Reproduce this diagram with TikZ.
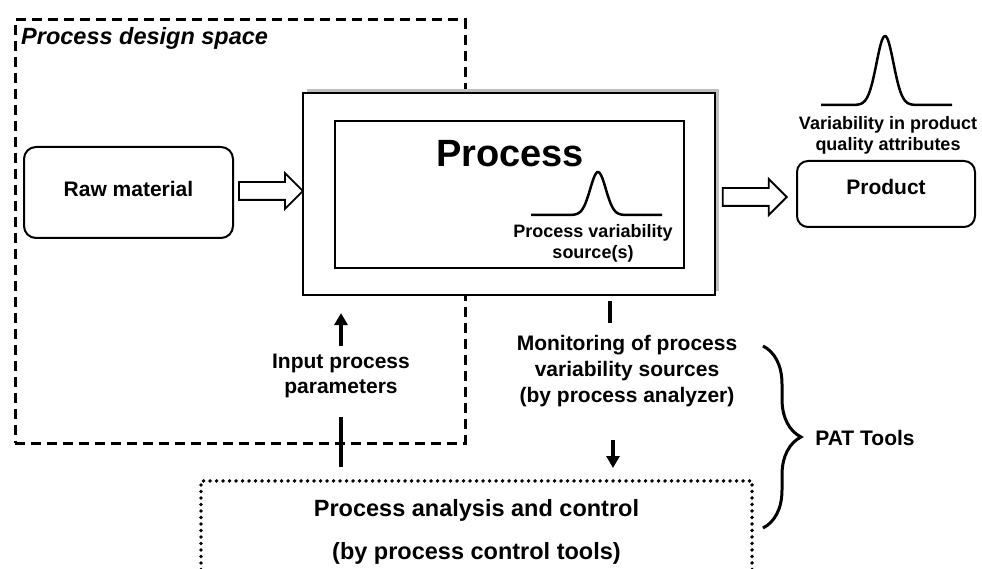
\documentclass[tikz,border=0pt]{standalone}
\usepackage{fontspec}
\setmainfont{Liberation Sans}
\usetikzlibrary{shapes,arrows.meta,positioning,shadows,decorations.pathreplacing}

\begin{document}
\begin{tikzpicture}[
			x=1pt, y=-1pt,
			font=\bfseries,
			region/.style={rectangle, draw=black, line width=3pt, dash pattern=on 10pt off 6pt, inner sep=0pt},
			dotbox/.style={rectangle, draw=black, line width=3.8pt, dash pattern=on 0pt off 6.5pt, line cap=round, align=center, inner sep=0pt},
			roundbox/.style={rectangle, rounded corners=12pt, draw=black, line width=2pt, align=center, inner sep=0pt},
			procbox/.style={rectangle, draw=black, line width=2.1pt, fill=white, inner sep=0pt},
			blockarrow/.style={single arrow, draw=black, line width=1.8pt, fill=white, minimum height=64pt, minimum width=34pt, single arrow head extend=9pt, single arrow head indent=0pt, inner sep=0pt, inner ysep=8pt},
			txt/.style={align=center, inner sep=0pt},
			stem/.style={line width=3.6pt},
			arr/.style={line width=3.6pt, -{Triangle[length=12pt,width=13pt]}},
			bell/.style={line width=2.5pt}
		]
		\useasboundingbox (0,0) rectangle (982,569);
		\clip (0,0) rectangle (982,569);

		% design space
		\node[region, minimum width=450pt, minimum height=423pt] (space) at (240,231.5) {};
		\node[txt, anchor=base west, font=\bfseries\itshape\fontsize{23.5}{28}\selectfont] (spacelbl) at (21,45) {Process design space};

		% main chain
		\node[roundbox, minimum width=209pt, minimum height=91pt, text depth=8pt, font=\bfseries\fontsize{21}{26}\selectfont] (raw) at (128.5,192.5) {Raw material};
		\node[procbox, minimum width=412pt, minimum height=202pt, drop shadow={shadow xshift=4pt, shadow yshift=4pt, fill=black!25, opacity=1}] (proc) at (509,194) {};
		\node[procbox, minimum width=349pt, minimum height=147pt] (inner) at (509.5,194.5) {};
		\node[roundbox, rounded corners=11pt, minimum width=178pt, minimum height=66pt, text depth=14pt, font=\bfseries\fontsize{21}{26}\selectfont] (prod) at (886,194) {Product};

		\node[blockarrow, right=4pt of raw, yshift=1.5pt] (rawarr) {};
		\node[blockarrow, left=8pt of prod, yshift=-3pt] (prodarr) {};

		% texts inside process
		\node[txt, font=\bfseries\fontsize{38}{44}\selectfont] (proclbl) at (510,154) {Process};
		\node[txt, font=\bfseries\fontsize{18}{21}\selectfont] (varlbl) at (593,243) {Process variability\\source(s)};
		\node[txt, font=\bfseries\fontsize{18}{21}\selectfont] (qualbl) at (888,135) {Variability in product\\quality attributes};

		% bells
		\coordinate (pbell) at (598,215);
		\coordinate (qbell) at (885,105);
		\draw[bell, shift={(pbell)}] plot[domain=-67:64, samples=100, smooth] (\x, {-43*exp(-(\x/11)*(\x/11))});
		\draw[bell, shift={(qbell)}] plot[domain=-64:67, samples=100, smooth] (\x, {-69*exp(-(\x/12)*(\x/12))});

		% analysis and control
		\node[dotbox, minimum width=551pt, minimum height=103pt, anchor=north, font=\bfseries\fontsize{23.5}{43}\selectfont] (ctrl) at (476.5,479) {Process analysis and control\\(by process control tools)};

		\node[txt, font=\bfseries\fontsize{21}{25}\selectfont] (inp) at (341,376) {Input process\\parameters};
		\node[txt, font=\bfseries\fontsize{21}{26}\selectfont] (mon) at (627,371) {Monitoring of process\\variability sources\\(by process analyzer)};
		\node[txt, font=\bfseries\fontsize{21}{26}\selectfont] (pat) at (865,438) {PAT Tools};

		\draw[arr] ([xshift=-168pt,yshift=-50pt]proc.south) -- ([xshift=-168pt,yshift=-17pt]proc.south);
		\draw[stem] ([xshift=-135.5pt,yshift=12pt]ctrl.north) -- ++(0,-50);
		\draw[stem] ([xshift=101pt,yshift=-5pt]proc.south) -- ++(0,22);
		\draw[arr] ([xshift=136.5pt,yshift=39pt]ctrl.north) -- ([xshift=136.5pt,yshift=11pt]ctrl.north);

		% PAT brace
		\coordinate (braceTop) at (763,346);
		\coordinate (braceBot) at (763,528);
		\draw[line width=3pt, decorate, decoration={brace, amplitude=38pt}] (braceTop) -- (braceBot);
	\end{tikzpicture}
\end{document}
